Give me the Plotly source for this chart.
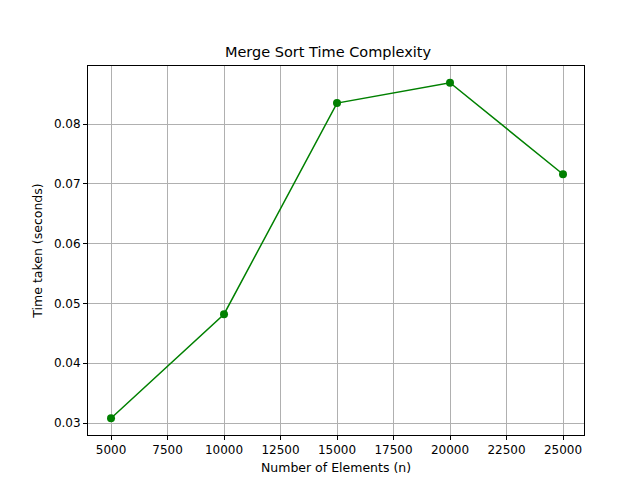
import plotly.graph_objects as go

n_elements = [5000, 10000, 15000, 20000, 25000]
time_taken = [0.0308, 0.0482, 0.0835, 0.0869, 0.0716]

fig = go.Figure(go.Scatter(
    x=n_elements, y=time_taken, mode='lines+markers',
    line=dict(color='green', width=1.5),
    marker=dict(color='green', size=8),
))

axis_style = dict(showgrid=True, gridcolor='#b0b0b0', gridwidth=1,
                  showline=True, linecolor='black', mirror=True,
                  ticks='outside', ticklen=4, tickcolor='black',
                  zeroline=False, automargin=False,
                  tickfont=dict(size=12, color='black'))

fig.update_layout(
    width=640, height=480,
    paper_bgcolor='white', plot_bgcolor='white',
    font=dict(family='DejaVu Sans', color='black'),
    margin=dict(l=80, r=64, t=58, b=53, autoexpand=False),
    title=dict(text='Merge Sort Time Complexity', x=0.5, xanchor='center',
               y=1 - 44 / 480, yanchor='middle', font=dict(size=14.5),
               automargin=False),
    showlegend=False,
)
fig.update_xaxes(range=[3982, 25929], tickvals=list(range(5000, 25001, 2500)),
                 tickformat='d',
                 title=dict(text='Number of Elements (n)', font=dict(size=12.5), standoff=6),
                 **axis_style)
fig.update_yaxes(range=[0.028, 0.0897], tickvals=[0.03, 0.04, 0.05, 0.06, 0.07, 0.08],
                 tickformat='.2f',
                 title=dict(text='Time taken (seconds)', font=dict(size=12.5), standoff=8),
                 **axis_style)

fig.write_html("out.html")
